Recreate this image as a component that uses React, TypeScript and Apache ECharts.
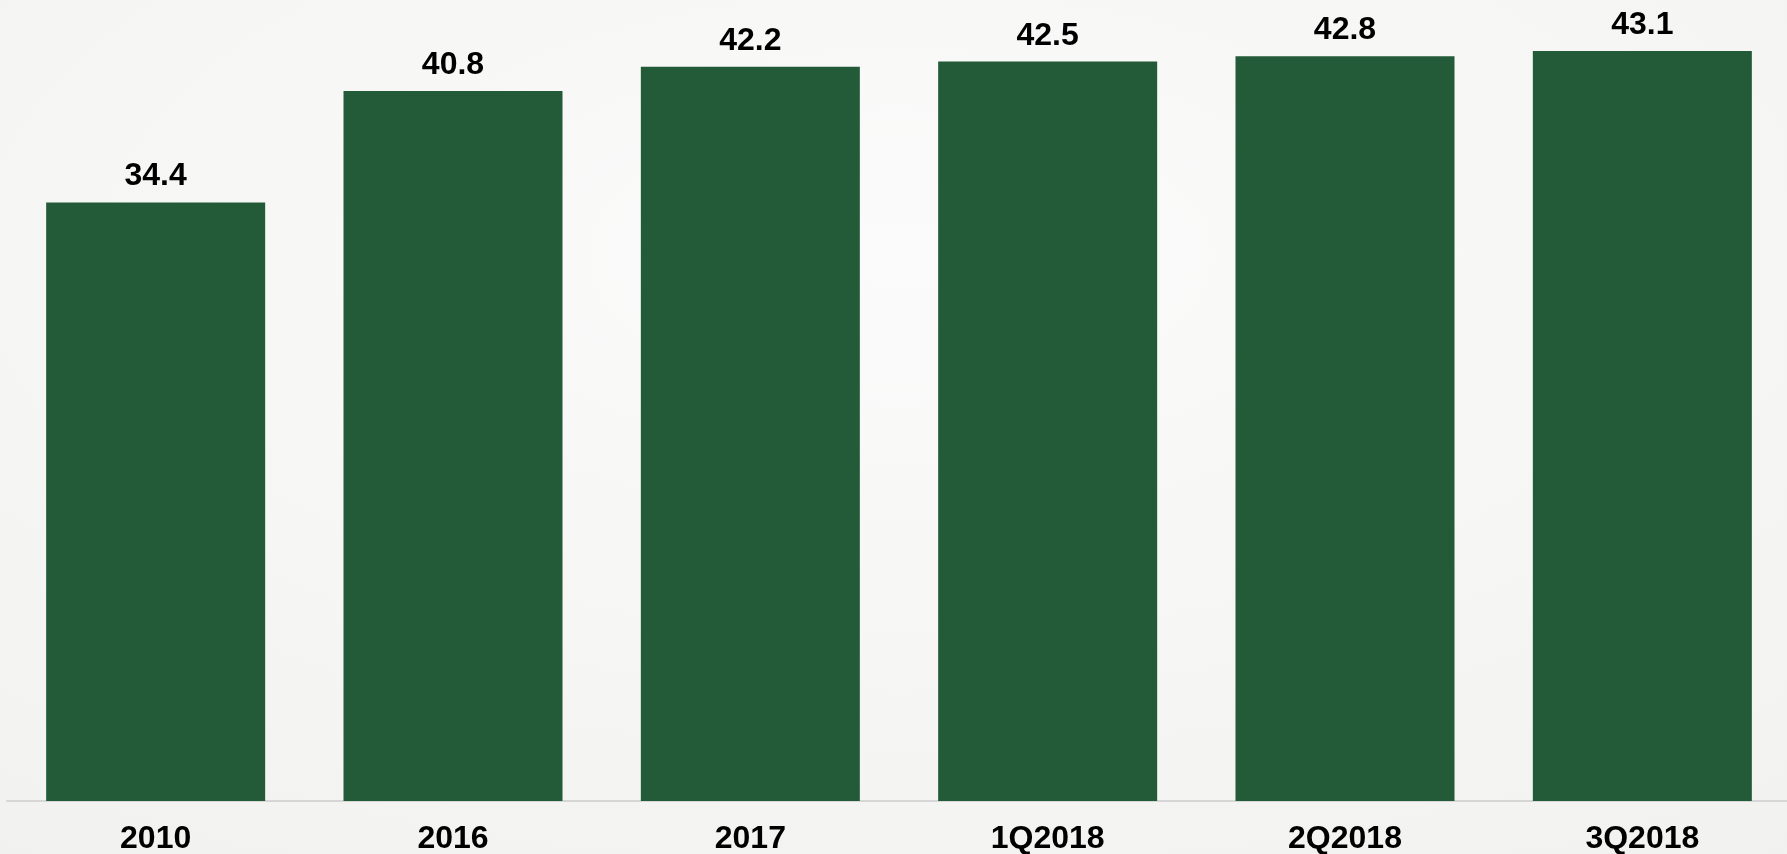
import React, { useEffect, useRef } from "react";
import * as echarts from "echarts";

const categories = ["2010", "2016", "2017", "1Q2018", "2Q2018", "3Q2018"];
const values = [34.4, 40.8, 42.2, 42.5, 42.8, 43.1];

export default function App() {
  const ref = useRef<HTMLDivElement>(null);
  useEffect(() => {
    if (!ref.current) return;
    const chart = echarts.init(ref.current, null, { renderer: "svg" });
    chart.setOption({
      animation: false,
      backgroundColor: {
        type: "radial",
        x: 0.5,
        y: 0.3,
        r: 0.9,
        colorStops: [
          { offset: 0, color: "#fbfbfb" },
          { offset: 1, color: "#f1f1ef" },
        ],
      },
      grid: { left: 7, top: 0, width: 1784, bottom: 53, containLabel: false },
      xAxis: {
        type: "category",
        data: categories,
        axisLine: { show: true, lineStyle: { color: "#d6d6d6", width: 2 } },
        axisTick: { show: false },
        axisLabel: {
          color: "#000",
          fontFamily: "Liberation Sans, Arial, sans-serif",
          fontWeight: "bold",
          fontSize: 32,
          margin: 20,
        },
      },
      yAxis: {
        type: "value",
        min: 0,
        max: 801 / 17.4,
        show: false,
        splitLine: { show: false },
      },
      series: [
        {
          type: "bar",
          data: values,
          barWidth: 219,
          itemStyle: { color: "#235a37" },
          label: {
            show: true,
            position: "top",
            distance: 12,
            color: "#000",
            fontFamily: "Liberation Sans, Arial, sans-serif",
            fontWeight: "bold",
            fontSize: 32,
            formatter: (p: any) => p.value.toFixed(1),
          },
        },
      ],
    });
    return () => chart.dispose();
  }, []);
  return (
    <div style={{ position: "fixed", left: 0, top: 0, width: 1787, height: 854, overflow: "hidden" }}>
      <div ref={ref} style={{ width: 1800, height: 854 }} />
    </div>
  );
}
